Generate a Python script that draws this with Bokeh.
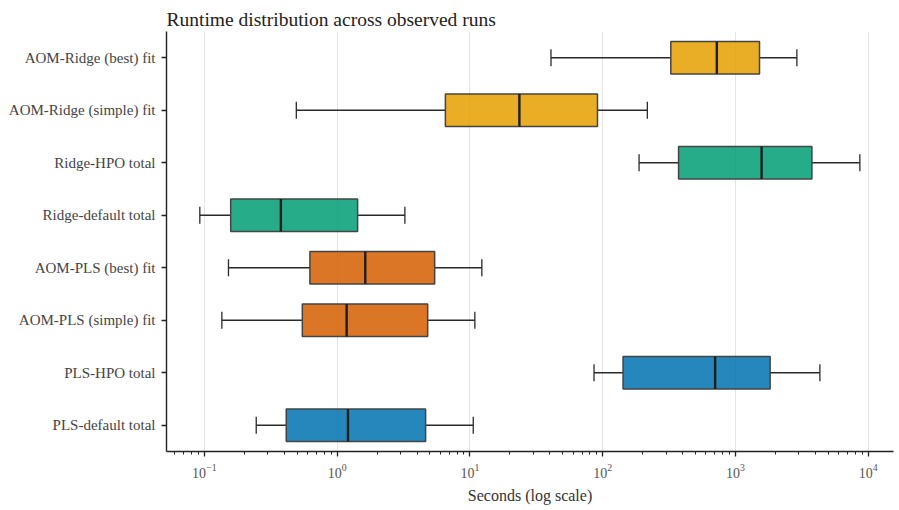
from bokeh.plotting import figure
from bokeh.models import ColumnDataSource, FactorRange, FixedTicker, LogTickFormatter, Range1d
from bokeh.transform import dodge
from bokeh.embed import file_html
from bokeh.resources import INLINE

# categories, bottom to top
categories = ["PLS-default total", "PLS-HPO total", "AOM-PLS (simple) fit", "AOM-PLS (best) fit",
              "Ridge-default total", "Ridge-HPO total", "AOM-Ridge (simple) fit", "AOM-Ridge (best) fit"]
whisker_lo = [0.246, 86.1, 0.1355, 0.152, 0.0925, 188, 0.493, 40.8]
q1 = [0.414, 142.4, 0.547, 0.624, 0.158, 373, 6.54, 326]
median = [1.207, 703, 1.18, 1.63, 0.377, 1574, 23.6, 724]
q3 = [4.64, 1825, 4.81, 5.43, 1.427, 3765, 91.4, 1518]
whisker_hi = [10.6, 4325, 10.9, 12.3, 3.24, 8650, 217, 2902]
colors = ["#0072B2", "#0072B2", "#D55E00", "#D55E00", "#009E73", "#009E73", "#E69F00", "#E69F00"]

major_ticks = [0.1, 1, 10, 100, 1000, 10000]
minor_ticks = [m * 10.0 ** e for e in range(-2, 4) for m in range(2, 10)]

src = ColumnDataSource(dict(cat=categories, lo=whisker_lo, q1=q1, med=median, q3=q3, hi=whisker_hi, color=colors))

FONT = "Liberation Serif"

p = figure(width=899, height=510, output_backend="svg", toolbar_location=None,
           x_axis_type="log", y_range=FactorRange(*categories),
           x_range=Range1d(0.0519, 15500),
           title="Runtime distribution across observed runs",
           min_border_left=166, min_border_right=6, min_border_top=31, min_border_bottom=59)

p.background_fill_color = "white"
p.border_fill_color = "white"
p.outline_line_color = None

# whiskers
p.segment(x0="lo", x1="q1", y0="cat", y1="cat", source=src, line_color="#2a2a2a", line_width=1.3)
p.segment(x0="q3", x1="hi", y0="cat", y1="cat", source=src, line_color="#2a2a2a", line_width=1.3)
# caps
p.segment(x0="lo", x1="lo", y0=dodge("cat", -0.16, range=p.y_range), y1=dodge("cat", 0.16, range=p.y_range),
          source=src, line_color="#2a2a2a", line_width=1.3)
p.segment(x0="hi", x1="hi", y0=dodge("cat", -0.16, range=p.y_range), y1=dodge("cat", 0.16, range=p.y_range),
          source=src, line_color="#2a2a2a", line_width=1.3)
# boxes
p.hbar(y="cat", left="q1", right="q3", height=0.62, source=src, fill_color="color", fill_alpha=0.85,
       line_color="#444444", line_width=1.5)
# medians
p.segment(x0="med", x1="med", y0=dodge("cat", -0.31, range=p.y_range), y1=dodge("cat", 0.31, range=p.y_range),
          source=src, line_color="#1e1e1e", line_width=2.4)

# grid
p.ygrid.grid_line_color = None
p.xgrid.grid_line_color = "#e3e3e3"
p.xgrid.grid_line_width = 1
p.xgrid.level = "underlay"

# x axis
ticker = FixedTicker(ticks=major_ticks, minor_ticks=minor_ticks)
p.xaxis.ticker = ticker
p.xgrid.ticker = ticker
p.xaxis.formatter = LogTickFormatter()
p.xaxis.axis_label = "Seconds (log scale)"
p.xaxis.axis_label_text_font = FONT
p.xaxis.axis_label_text_font_style = "normal"
p.xaxis.axis_label_text_font_size = "16px"
p.xaxis.axis_label_text_color = "#333333"
p.xaxis.axis_label_standoff = 6
p.xaxis.major_label_text_font = FONT
p.xaxis.major_label_text_font_size = "14px"
p.xaxis.major_label_text_color = "#555555"
p.xaxis.major_label_standoff = 7

# y axis
p.yaxis.major_label_text_font = FONT
p.yaxis.major_label_text_font_size = "15px"
p.yaxis.major_label_text_color = "#444444"
p.yaxis.major_label_standoff = 6

for ax in (p.xaxis, p.yaxis):
    ax.axis_line_color = "#222222"
    ax.axis_line_width = 1.4
    ax.major_tick_line_color = "#222222"
    ax.major_tick_line_width = 1.3
    ax.major_tick_in = 0
    ax.major_tick_out = 5
    ax.minor_tick_line_color = "#222222"
    ax.minor_tick_line_width = 1
    ax.minor_tick_in = 0
    ax.minor_tick_out = 3

# title
p.title.text_font = FONT
p.title.text_font_size = "19.5px"
p.title.text_font_style = "normal"
p.title.text_color = "#222222"
p.title.align = "left"
p.title.standoff = 4

open("out.html", "w").write(file_html(p, INLINE))
